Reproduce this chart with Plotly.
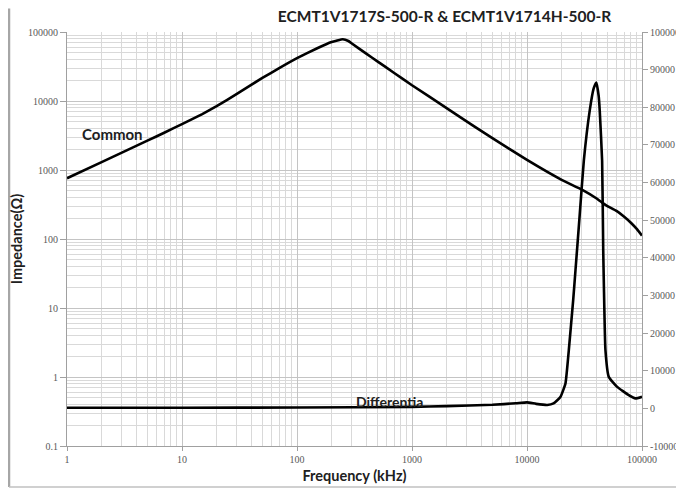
import plotly.graph_objects as go

# ---- data ----
freq_common = [1, 2, 3, 5, 7, 10, 15, 20, 30, 50, 70, 100, 150, 200, 250, 280, 300,
               400, 500, 700, 1000, 2000, 3500, 5000, 10000, 20000, 30000, 40000,
               45000, 50000, 60000, 70000, 80000, 90000, 100000]
common_ohm = [760, 1300, 1790, 2660, 3470, 4620, 6460, 8400, 12700, 21600, 29900,
              41700, 58200, 71600, 78500, 74000, 68000, 48600, 37500, 25500, 16900,
              7900, 4250, 2900, 1400, 720, 520, 390, 337, 300, 255, 210, 172, 140, 112]

freq_diff = [1, 10, 100, 1000, 2000, 5000, 8000, 10000, 12000, 15000, 17000, 19500,
             21600, 23100, 25200, 26400, 28500, 31200, 35100, 38000, 40100, 42000,
             42900, 45000, 46000, 46600, 48100, 51400, 60800, 76700, 87700, 100000]
diff_ohm = [150, 180, 230, 400, 600, 950, 1350, 1600, 1200, 900, 1300, 3000,
            6600, 15500, 28700, 36700, 50000, 65800, 79100, 85000, 86600, 83000,
            79100, 65800, 42000, 33000, 15450, 8370, 5720, 3520, 2650, 3080]

x_tickvals = [1, 10, 100, 1000, 10000, 100000]
x_ticktext = ["1", "10", "100", "1000", "10000", "100000"]
y_tickvals = [0.1, 1, 10, 100, 1000, 10000, 100000]
y_ticktext = ["0.1", "1", "10", "100", "1000", "10000", "100000"]
y2_tickvals = list(range(-10000, 100001, 10000))
y2_ticktext = [str(v) for v in y2_tickvals]

title_text = "ECMT1V1717S-500-R & ECMT1V1714H-500-R"
label_common = "Common"
label_diff = "Differentia"

# ---- figure ----
fig = go.Figure()
fig.add_trace(go.Scatter(x=freq_common, y=common_ohm, mode="lines",
                         line=dict(color="black", width=2.6, shape="spline", smoothing=0.3),
                         name="Common", yaxis="y"))
fig.add_trace(go.Scatter(x=freq_diff, y=diff_ohm, mode="lines",
                         line=dict(color="black", width=2.6, shape="spline", smoothing=0.4),
                         name="Differential", yaxis="y2"))

# the page body adds an 8px offset; size the figure to fit inside the window
OFF = 8
W, H = 684 - OFF, 493 - OFF
ml, mt = 67 - OFF, 32 - OFF
pw, ph = 575, 414
mr = W - ml - pw
mb = H - mt - ph

def px_to_paper(px, py):
    # px, py given in window pixels
    fx, fy = px - OFF, py - OFF
    return (fx - ml) / pw, (H - mb - fy) / ph

tick_font = dict(family="Liberation Serif", size=10, color="#595959")
grid_major = "#c4c4c4"
grid_minor = "#d9d9d9"
axis_col = "#a0a0a0"
label_font = dict(family="Lato", size=14.5, color="#202020")

fig.update_layout(
    width=W, height=H,
    margin=dict(l=ml, r=mr, t=mt, b=mb, autoexpand=False),
    paper_bgcolor="white", plot_bgcolor="white",
    showlegend=False,
    title=dict(text="<b>" + title_text + "</b>", x=(444.5 - OFF) / W, xanchor="center",
               y=1 - (17 - OFF) / H, yanchor="middle",
               font=dict(family="Lato", size=15.5, color="#202020")),
    xaxis=dict(type="log", range=[0, 5], tickvals=x_tickvals, ticktext=x_ticktext,
               showgrid=True, gridcolor=grid_major, gridwidth=1,
               minor=dict(showgrid=True, gridcolor=grid_minor, dtick="D1", ticks=""),
               showline=True, linecolor=axis_col, ticks="outside", ticklen=4,
               tickcolor=axis_col, tickfont=tick_font, zeroline=False, automargin=False,
               title=dict(text="<b>Frequency (kHz)</b>", standoff=6, font=label_font)),
    yaxis=dict(type="log", range=[-1, 5], tickvals=y_tickvals, ticktext=y_ticktext,
               showgrid=True, gridcolor=grid_major, gridwidth=1,
               minor=dict(showgrid=True, gridcolor=grid_minor, dtick="D1", ticks=""),
               showline=True, linecolor=axis_col, ticks="outside", ticklen=6,
               tickcolor=axis_col, tickfont=tick_font, zeroline=False, automargin=False,
               title=dict(text="<b>Impedance(Ω)</b>", standoff=14, font=label_font)),
    yaxis2=dict(overlaying="y", side="right", range=[-10000, 100000],
                tickvals=y2_tickvals, ticktext=y2_ticktext, showgrid=False,
                showline=True, linecolor=axis_col, ticks="outside", ticklen=5,
                tickcolor=axis_col, tickfont=tick_font, zeroline=False, automargin=False),
)

# annotations for curve labels
ax, ay = px_to_paper(112, 134)
fig.add_annotation(xref="paper", yref="paper", x=ax, y=ay, text="<b>" + label_common + "</b>",
                   showarrow=False, font=dict(family="Lato", size=15, color="#202020"),
                   xanchor="center", yanchor="middle")
ax, ay = px_to_paper(389, 401)
fig.add_annotation(xref="paper", yref="paper", x=ax, y=ay, text="<b>" + label_diff + "</b>",
                   showarrow=False, font=dict(family="Lato", size=14, color="#202020"),
                   xanchor="center", yanchor="middle")

# outer border lines (chart area frame, cropped on right)
x0, y0 = px_to_paper(OFF + 1, OFF + 0.5)
x1, y1 = px_to_paper(700, 487)
fig.add_shape(type="line", xref="paper", yref="paper", x0=x0, x1=x0, y0=y0, y1=y1,
              line=dict(color="#a6a6a6", width=2.5))
fig.add_shape(type="line", xref="paper", yref="paper", x0=x0, x1=x1, y0=y1, y1=y1,
              line=dict(color="#c0c0c0", width=1.5))

fig.write_html("out.html")
